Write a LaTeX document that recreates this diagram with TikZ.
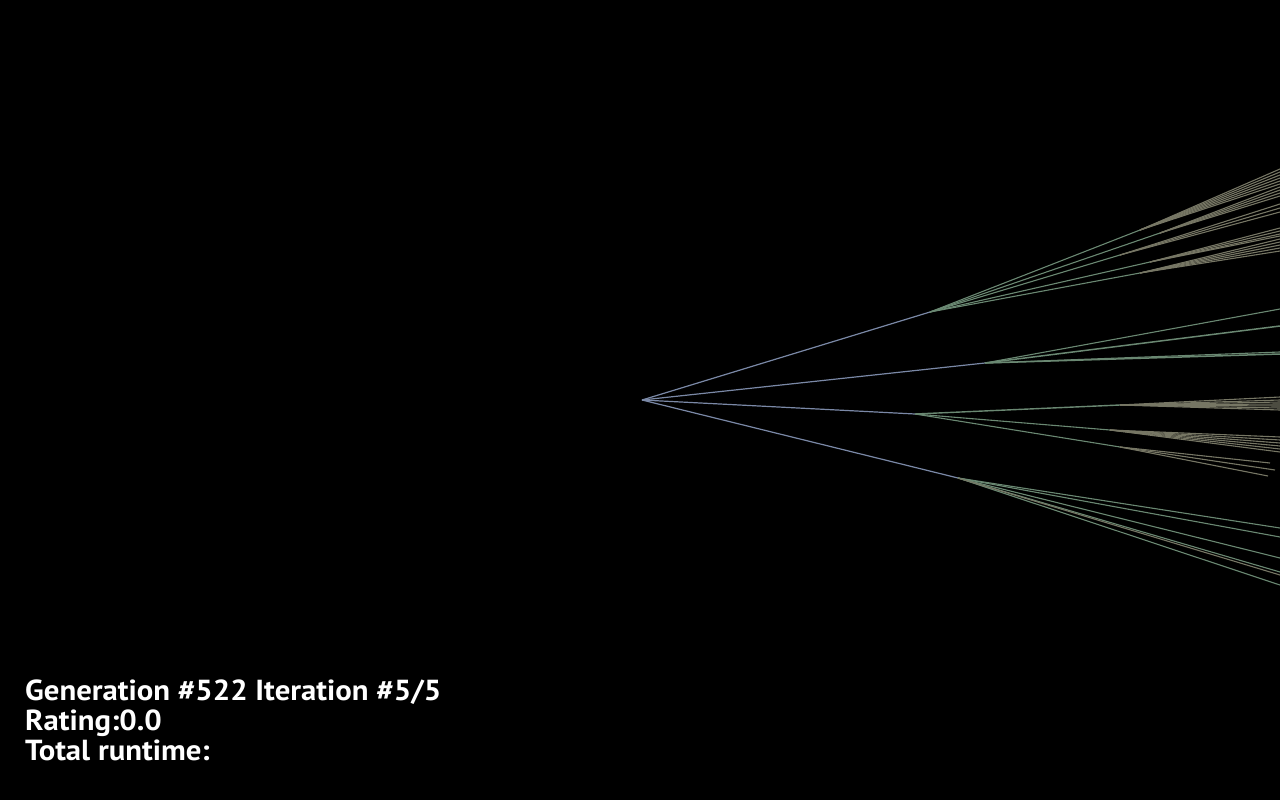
\documentclass[tikz,border=0pt]{standalone}
\usepackage{fontspec}
\setmainfont{PT Sans}
\newcommand{\widetxt}[1]{\scalebox{1.06}[1]{#1}}
\begin{document}
\begin{tikzpicture}[x=1pt,y=-1pt,
  trunk/.style={draw=trunkc,line width=1.2pt},
  twig/.style={draw=twigc,line width=1.1pt},
  tip/.style={draw=tipc,line width=1.1pt},
  label/.style={anchor=base west,text=white,font=\bfseries\fontsize{29}{30}\selectfont,inner sep=0pt}]
\definecolor{trunkc}{HTML}{7A88A6}
\definecolor{twigc}{HTML}{6A8872}
\definecolor{tipc}{HTML}{767664}
\fill[black] (0,0) rectangle (1280,800);
\useasboundingbox (0,0) rectangle (1280,800);
% root and first-level branch points
\coordinate (R) at (642,400);
\coordinate (A) at (930,312);
\coordinate (B) at (985,363);
\coordinate (C) at (915,414);
\coordinate (D) at (958,478);
\draw[trunk] (R) -- (A);
\draw[trunk] (R) -- (B);
\draw[trunk] (R) -- (C);
\draw[trunk] (R) -- (D);
% ---- branch A ----
\coordinate (a1) at (1140,230);
\coordinate (a2) at (1160,233);
\coordinate (a3) at (1120,255);
\coordinate (a4) at (1150,262);
\coordinate (a5) at (1140,273);
\draw[twig] (A) -- (a1); \draw[twig] (A) -- (a2); \draw[twig] (A) -- (a3);
\draw[twig] (A) -- (a4); \draw[twig] (A) -- (a5);
\foreach \y/\n in {169/1,172/2,175/3,178/4,181/5,184/6}{
  \coordinate (ea1\n) at (1280,\y); \draw[tip] (a1) -- (ea1\n);}
\foreach \y/\n in {187/1,190/2,193/3,196/4}{
  \coordinate (ea2\n) at (1280,\y); \draw[tip] (a2) -- (ea2\n);}
\foreach \y/\n in {204/1,208/2,212/3}{
  \coordinate (ea3\n) at (1280,\y); \draw[tip] (a3) -- (ea3\n);}
\foreach \y/\n in {228/1,231/2,234/3,236/4}{
  \coordinate (ea4\n) at (1280,\y); \draw[tip] (a4) -- (ea4\n);}
\foreach \y/\n in {239/1,242/2,245/3,248/4,251/5}{
  \coordinate (ea5\n) at (1280,\y); \draw[tip] (a5) -- (ea5\n);}
% ---- branch B ----
\coordinate (b1) at (1280,309);
\coordinate (b2) at (1280,326);
\coordinate (b3) at (1280,354);
\coordinate (b4) at (1280,352);
\draw[twig] (B) -- (b1);
\draw[twig,line width=1.5pt] (B) -- (b2);
\draw[twig,line width=1.5pt] (B) -- (b3);
\draw[twig] (B) -- (b4);
% ---- branch C ----
\coordinate (c1) at (1120,405);
\coordinate (c2) at (1110,430);
\coordinate (c3) at (1120,447);
\draw[twig,line width=1.4pt] (C) -- (c1);
\draw[twig] (C) -- (c2);
\draw[twig] (C) -- (c3);
\foreach \y/\n in {397/1,400/2,402/3,404/4,406/5,408/6,410/7}{
  \coordinate (ec1\n) at (1280,\y); \draw[tip] (c1) -- (ec1\n);}
\foreach \y/\n in {437/1,440/2,443/3,446/4,449/5,452/6}{
  \coordinate (ec2\n) at (1280,\y); \draw[tip] (c2) -- (ec2\n);}
\coordinate (ec31) at (1270,463);
\coordinate (ec32) at (1275,470);
\coordinate (ec33) at (1268,476);
\draw[tip] (c3) -- (ec31); \draw[tip] (c3) -- (ec32); \draw[tip] (c3) -- (ec33);
% ---- branch D ----
\coordinate (d1) at (1280,528);
\coordinate (d2) at (1280,537);
\coordinate (d3) at (1280,558);
\coordinate (d4) at (1280,572);
\coordinate (d5) at (1280,585);
\coordinate (d6) at (1280,575);
\draw[twig] (D) -- (d1);
\draw[twig] (D) -- (d2);
\draw[twig] (D) -- (d3);
\draw[twig] (D) -- (d4);
\draw[twig] (D) -- (d5);
\draw[tip] (D) -- (d6);
% ---- text ----
\node[label] (t1) at (25,700) {\widetxt{Generation \#522 Iteration \#5/5}};
\node[label] (t2) at (25,730) {\widetxt{Rating:0.0}};
\node[label] (t3) at (25,760) {\widetxt{Total runtime:}};
\end{tikzpicture}
\end{document}
